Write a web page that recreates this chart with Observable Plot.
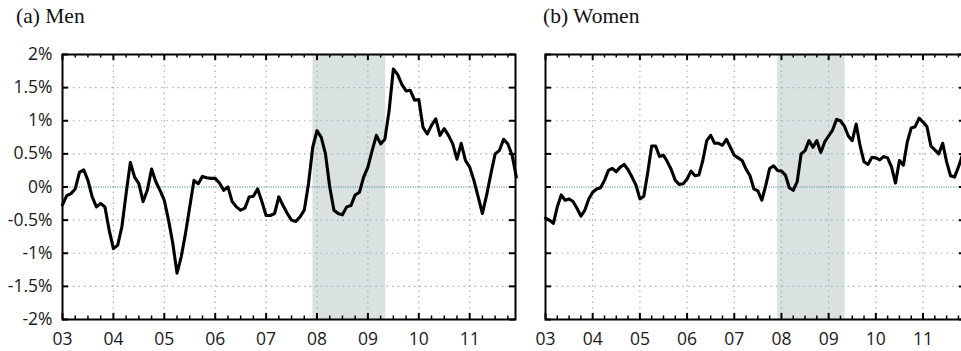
<!DOCTYPE html>
<html>
<head>
<meta charset="utf-8">
<script src="https://cdn.jsdelivr.net/npm/d3@7"></script>
<script src="https://cdn.jsdelivr.net/npm/@observablehq/plot@0.6"></script>
<style>
  html, body { margin: 0; padding: 0; background: #fff; overflow: hidden; }
  #wrap { position: relative; width: 961px; height: 351px; overflow: hidden; }
  .panel { position: absolute; top: 0; }
  .title { position: absolute; top: 4px; font-family: "Liberation Serif", "Times New Roman", serif; font-size: 21.5px; color: #111; white-space: nowrap; }
</style>
</head>
<body>
<div id="wrap">
  <div class="title" style="left:16px">(a) Men</div>
  <div class="title" style="left:543px">(b) Women</div>
</div>
<script>
// Monthly values, Jan 2003 – Dec 2011 (percent)
const men = [
  -0.27, -0.13, -0.10, -0.03, 0.22, 0.26, 0.10, -0.15, -0.30, -0.25, -0.30, -0.65,
  -0.93, -0.88, -0.60, -0.10, 0.37, 0.15, 0.05, -0.22, -0.05, 0.27, 0.08, -0.05,
  -0.20, -0.50, -0.85, -1.30, -1.05, -0.70, -0.30, 0.10, 0.05, 0.16, 0.14, 0.13,
  0.13, 0.06, -0.05, 0.00, -0.22, -0.30, -0.35, -0.32, -0.15, -0.14, -0.03, -0.22,
  -0.43, -0.43, -0.40, -0.15, -0.28, -0.40, -0.50, -0.52, -0.45, -0.35, 0.05, 0.60,
  0.85, 0.75, 0.50, 0.00, -0.35, -0.40, -0.42, -0.30, -0.28, -0.12, -0.08, 0.15,
  0.30, 0.55, 0.78, 0.65, 0.72, 1.15, 1.78, 1.70, 1.55, 1.45, 1.46, 1.31,
  1.32, 0.90, 0.80, 0.93, 1.03, 0.78, 0.88, 0.78, 0.65, 0.42, 0.66, 0.40,
  0.30, 0.10, -0.15, -0.40, -0.12, 0.20, 0.50, 0.55, 0.72, 0.65, 0.48, 0.15
];
const women = [
  -0.47, -0.50, -0.55, -0.30, -0.12, -0.20, -0.18, -0.22, -0.32, -0.44, -0.35, -0.18,
  -0.08, -0.03, -0.01, 0.10, 0.25, 0.28, 0.23, 0.30, 0.34, 0.26, 0.15, 0.03,
  -0.18, -0.14, 0.22, 0.62, 0.62, 0.46, 0.48, 0.38, 0.26, 0.10, 0.04, 0.05,
  0.12, 0.24, 0.17, 0.18, 0.40, 0.70, 0.78, 0.66, 0.66, 0.63, 0.72, 0.60,
  0.48, 0.44, 0.40, 0.27, 0.17, -0.03, -0.06, -0.20, 0.02, 0.28, 0.32, 0.25,
  0.24, 0.18, -0.01, -0.05, 0.08, 0.50, 0.55, 0.70, 0.60, 0.70, 0.52, 0.68,
  0.77, 0.86, 1.02, 1.00, 0.92, 0.77, 0.70, 0.95, 0.62, 0.38, 0.34, 0.45,
  0.44, 0.41, 0.46, 0.44, 0.30, 0.06, 0.40, 0.33, 0.68, 0.89, 0.91, 1.04,
  0.98, 0.91, 0.62, 0.56, 0.50, 0.66, 0.38, 0.17, 0.15, 0.30, 0.48, 0.55
];
const years = [2003, 2004, 2005, 2006, 2007, 2008, 2009, 2010, 2011];
const yearLabels = ["03", "04", "05", "06", "07", "08", "09", "10", "11"];
const yTicks = [-2, -1.5, -1, -0.5, 0, 0.5, 1, 1.5, 2];
const yLabels = ["-2%", "-1.5%", "-1%", "-0.5%", "0%", "0.5%", "1%", "1.5%", "2%"];
const recession = [{start: 2007.92, end: 2009.35}];
const startYear = 2003;

const quarters = [];
for (const y of years) for (const q of [0.25, 0.5, 0.75]) quarters.push(y + q);

function panel(values, {left, width, marginLeft, marginRight, labels}) {
  const rows = values.map((v, i) => ({t: startYear + i / 12, v}));
  const H = 351, mt = 54, mb = 32;
  const ph = H - mt - mb;
  const pw = width - marginLeft - marginRight;
  const labelFont = {fontFamily: "'Open Sans', sans-serif", fontSize: 17.5, fill: "#1a1a1a"};
  const marks = [
    Plot.rect(recession, {x1: "start", x2: "end", fill: "#d9e2e1"}),
    Plot.ruleX(years.slice(1), {x: d => d, stroke: "#a3b1b5", strokeWidth: 1.2, strokeDasharray: "1.5,4"}),
    Plot.ruleY(yTicks.filter(d => d !== 0 && Math.abs(d) !== 2), {y: d => d, stroke: "#a3b1b5", strokeWidth: 1.2, strokeDasharray: "1.5,4"}),
    Plot.ruleY([0], {y: d => d, stroke: "#4f8aa3", strokeWidth: 1.2, strokeDasharray: "1.2,1.2"}),
    Plot.lineY(rows, {x: "t", y: "v", stroke: "#000", strokeWidth: 3.1, strokeLinejoin: "round", strokeLinecap: "round"}),
    Plot.frame({stroke: "#000", strokeWidth: 2}),
    Plot.ruleX(years, {x: d => d, stroke: "#000", strokeWidth: 2, insetBottom: ph - 6}),
    Plot.ruleX(years, {x: d => d, stroke: "#000", strokeWidth: 2, insetTop: ph - 6}),
    Plot.ruleX(quarters, {x: d => d, stroke: "#000", strokeWidth: 1.5, insetBottom: ph - 3.5}),
    Plot.ruleX(quarters, {x: d => d, stroke: "#000", strokeWidth: 1.5, insetTop: ph - 3.5}),
    Plot.ruleY(yTicks, {y: d => d, stroke: "#000", strokeWidth: 2, insetRight: pw - 6}),
    Plot.ruleY(yTicks, {y: d => d, stroke: "#000", strokeWidth: 2, insetLeft: pw - 6}),
    Plot.text(years, {x: d => d, text: (d, i) => yearLabels[i], frameAnchor: "bottom", dy: 20, lineAnchor: "middle", textAnchor: "middle", ...labelFont})
  ];
  if (labels) {
    marks.push(Plot.text(yTicks, {y: d => d, text: (d, i) => yLabels[i], frameAnchor: "left", dx: -10, textAnchor: "end", lineAnchor: "middle", ...labelFont}));
  }
  const chart = Plot.plot({
    width, height: H,
    marginLeft, marginRight, marginTop: mt, marginBottom: mb,
    x: {domain: [2003, 2011.9], axis: null},
    y: {domain: [-2, 2], axis: null},
    style: {overflow: "visible", background: "transparent"},
    marks
  });
  chart.classList.add("panel");
  chart.style.left = left + "px";
  return chart;
}

const wrap = document.getElementById("wrap");
wrap.appendChild(panel(men, {left: 0, width: 530, marginLeft: 62, marginRight: 15, labels: true}));
wrap.appendChild(panel(women, {left: 530, width: 435, marginLeft: 15, marginRight: 0, labels: false}));
</script>
</body>
</html>
